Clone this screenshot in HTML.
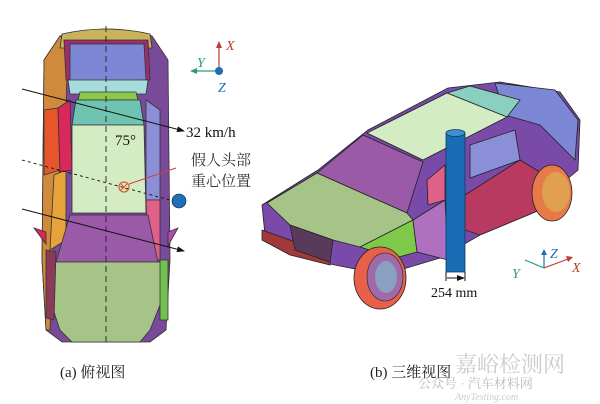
<!DOCTYPE html>
<html><head><meta charset="utf-8"><style>
html,body{margin:0;padding:0;background:#fff;}
svg{display:block}
text{font-family:"Liberation Serif","Noto Serif CJK SC",serif;}
</style></head><body>
<svg width="600" height="404" viewBox="0 0 600 404" xmlns="http://www.w3.org/2000/svg">
<defs>
<marker id="ar" markerWidth="8" markerHeight="6" refX="7" refY="3" orient="auto"><path d="M0,0 L8,3 L0,6 Z" fill="#111"/></marker>
</defs>
<!-- LEFT CAR top view -->
<g stroke="#333" stroke-width="0.8">
<path d="M60,36 Q106,22 152,36 L168,60 L170,260 L166,330 L150,342 L62,342 L46,330 L42,260 L44,60 Z" fill="#7a4a9a"/>
<path d="M44,60 L60,36 L68,40 L66,110 L54,220 L50,330 L46,330 L42,260 Z" fill="#d08a3c"/>
<path d="M44,110 L58,108 L60,170 L44,175 Z" fill="#e8542c"/>
<path d="M54,175 L66,170 L66,240 L50,250 Z" fill="#e7a33a"/>
<path d="M58,108 L70,100 L72,170 L60,172 Z" fill="#d9285a"/>
<path d="M146,100 L160,110 L160,200 L146,200 Z" fill="#8b8fd8"/>
<path d="M146,200 L160,200 L160,260 L148,260 Z" fill="#e0608a"/>
<path d="M62,34 Q106,24 150,34 L152,48 L60,48 Z" fill="#c8b25a"/>
<path d="M64,40 L148,40 L150,80 L66,80 Z" fill="#9c2e6e"/>
<path d="M70,44 L144,44 L146,80 L70,82 Z" fill="#7c88d6"/>
<path d="M68,80 L148,80 L146,94 L70,94 Z" fill="#a6dcdc"/>
<path d="M80,92 L136,92 L138,100 L78,100 Z" fill="#8cc84a"/>
<path d="M76,100 L140,100 L144,125 L72,125 Z" fill="#6ec4b0"/>
<path d="M72,125 L144,125 L146,213 L72,213 Z" fill="#d4ecc4"/>
<path d="M70,215 L148,215 L158,262 L56,262 Z" fill="#9a5aa8"/>
<path d="M52,262 L162,262 L162,300 L150,330 L140,342 L72,342 L60,330 L50,300 Z" fill="#a6c488"/>
<path d="M46,250 L56,252 L54,320 L46,318 Z" fill="#8c3a5a"/>
<path d="M160,260 L168,260 L168,320 L160,320 Z" fill="#72c050"/>
<path d="M34,228 L46,232 L46,244 Z" fill="#d9285a"/>
<path d="M168,232 L178,228 L168,246 Z" fill="#b04ab0"/>
</g>
<line x1="106" y1="26" x2="106" y2="345" stroke="#222" stroke-width="0.9" stroke-dasharray="6,4"/>
<line x1="22" y1="89" x2="184" y2="131" stroke="#111" stroke-width="1" marker-end="url(#ar)"/>
<line x1="22" y1="209" x2="184" y2="251" stroke="#111" stroke-width="1" marker-end="url(#ar)"/>
<line x1="22" y1="160" x2="170" y2="200" stroke="#111" stroke-width="0.9" stroke-dasharray="3,3"/>
<circle cx="124" cy="187" r="5" fill="none" stroke="#e05a30" stroke-width="1.2"/>
<path d="M121,184 L127,190 M127,184 L121,190" stroke="#e05a30" stroke-width="1"/>
<line x1="129" y1="184" x2="176" y2="168" stroke="#d04040" stroke-width="1"/>
<circle cx="179" cy="201" r="7" fill="#1f6fb5" stroke="#114" stroke-width="0.6"/>
<text x="115" y="145" font-size="15" fill="#111">75°</text>
<text x="186" y="137" font-size="15" fill="#111">32 km/h</text>
<text x="191" y="165" font-size="15" fill="#333" font-family="Noto Serif CJK SC,serif">假人头部</text>
<text x="191" y="186" font-size="15" fill="#333" font-family="Noto Serif CJK SC,serif">重心位置</text>
<!-- axis a -->
<line x1="219" y1="71" x2="219" y2="47" stroke="#c0392b" stroke-width="1.2"/><path d="M216,48 L219,41 L222,48Z" fill="#c0392b"/>
<line x1="219" y1="71" x2="196" y2="71" stroke="#2a9a7a" stroke-width="1.2"/><path d="M197,68 L190,71 L197,74Z" fill="#2a9a7a"/>
<circle cx="219" cy="71" r="4" fill="#1f6fb5"/>
<text x="226" y="50" font-size="14" font-style="italic" fill="#c0392b">X</text>
<text x="197" y="67" font-size="14" font-style="italic" fill="#2a9a7a">Y</text>
<text x="218" y="92" font-size="14" font-style="italic" fill="#1f6fb5">Z</text>
<!-- RIGHT CAR 3D -->
<g stroke="#222" stroke-width="0.8">
<path d="M262,205 L318,170 L368,130 L448,88 L500,82 L560,92 L580,120 L578,170 L560,185 L540,210 L480,235 L440,258 L400,270 L360,270 L320,262 L290,250 L265,235 Z" fill="#7a4aa8"/>
<path d="M495,83 L555,90 L578,120 L575,160 L540,125 L505,115 Z" fill="#7c88d6"/>
<path d="M447,93 L470,86 L520,100 L507,117 Z" fill="#8ad0c0"/>
<path d="M367,133 L447,93 L507,117 L423,160 Z" fill="#d4ecc4"/>
<path d="M317,173 L363,135 L423,162 L407,213 Z" fill="#9a5aa8"/>
<path d="M267,203 L317,173 L407,213 L413,220 L360,247 L333,240 L290,225 Z" fill="#a6c488"/>
<path d="M360,247 L413,220 L417,252 L395,258 Z" fill="#7ec84a"/>
<path d="M417,252 L413,220 L445,200 L448,260 Z" fill="#b070c0"/>
<path d="M465,195 L520,160 L545,175 L540,210 L480,235 L465,230 Z" fill="#b83a60"/>
<path d="M470,145 L515,130 L520,160 L470,178 Z" fill="#8b8fd8"/>
<path d="M427,180 L445,165 L445,200 L428,205 Z" fill="#e0608a"/>
<path d="M262,230 L290,240 L330,255 L330,265 L290,255 L262,240 Z" fill="#a03a3a"/>
<path d="M290,225 L333,240 L330,262 L295,250 Z" fill="#5a3a5a"/>
</g>
<ellipse cx="380" cy="278" rx="26" ry="31" fill="#e8604a" stroke="#222" stroke-width="0.8"/>
<ellipse cx="385" cy="277" rx="18" ry="24" fill="#a06aa8" stroke="#222" stroke-width="0.6"/>
<ellipse cx="386" cy="277" rx="11" ry="16" fill="#8aa0c0"/>
<ellipse cx="552" cy="193" rx="20" ry="28" fill="#e87a4a" stroke="#222" stroke-width="0.8"/>
<ellipse cx="556" cy="192" rx="14" ry="20" fill="#e0a050"/>
<!-- pole -->
<rect x="446" y="133" width="19" height="139" fill="#1a6db5" stroke="#0d3a6a" stroke-width="0.8"/>
<ellipse cx="455.5" cy="133" rx="9.5" ry="3.5" fill="#3f8fd0" stroke="#0d3a6a" stroke-width="0.8"/>
<line x1="446" y1="272" x2="446" y2="281" stroke="#111"/><line x1="465" y1="272" x2="465" y2="281" stroke="#111"/>
<line x1="447" y1="278" x2="464" y2="278" stroke="#111" marker-end="url(#ar)"/>
<text x="431" y="297" font-size="14" fill="#111">254 mm</text>
<!-- axis b -->
<line x1="544" y1="268" x2="544" y2="254" stroke="#1f6fb5" stroke-width="1.2"/><path d="M541,255 L544,249 L547,255Z" fill="#1f6fb5"/>
<line x1="544" y1="268" x2="568" y2="259" stroke="#c0392b" stroke-width="1.2"/><path d="M566,256 L573,257 L568,262Z" fill="#c0392b"/>
<line x1="544" y1="268" x2="525" y2="260" stroke="#2a9a7a" stroke-width="1.2"/>
<text x="550" y="258" font-size="14" font-style="italic" fill="#1f6fb5">Z</text>
<text x="572" y="272" font-size="14" font-style="italic" fill="#c0392b">X</text>
<text x="512" y="278" font-size="14" font-style="italic" fill="#2a9a7a">Y</text>
<!-- captions -->
<text x="60" y="377" font-size="15" fill="#222">(a) <tspan font-family="Noto Serif CJK SC,serif">俯视图</tspan></text>
<text x="370" y="377" font-size="15" fill="#222">(b) <tspan font-family="Noto Serif CJK SC,serif">三维视图</tspan></text>
<text x="455" y="372" font-size="22" fill="#ccc" font-family="Noto Sans CJK SC,sans-serif">嘉峪检测网</text>
<text x="418" y="388" font-size="13" fill="#bbb" font-family="Noto Sans CJK SC,sans-serif">公众号 · 汽车材料网</text>
<text x="455" y="400" font-size="10" font-style="italic" fill="#ccc">AnyTesting.com</text>
</svg>
</body></html>
